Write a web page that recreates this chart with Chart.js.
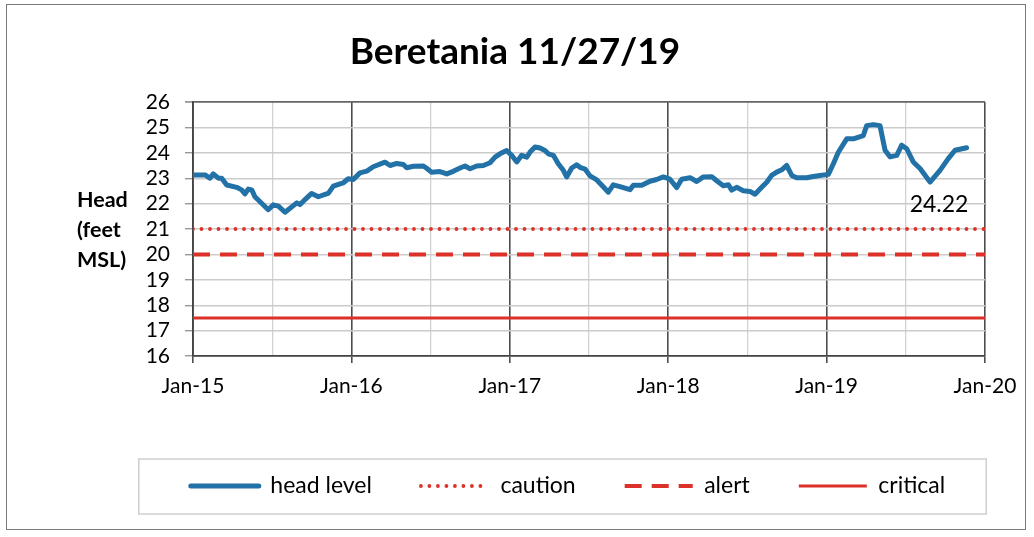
<!DOCTYPE html>
<html>
<head>
<meta charset="utf-8">
<script src="https://cdn.jsdelivr.net/npm/chart.js@4/dist/chart.umd.min.js"></script>
<style>
  html, body { margin: 0; padding: 0; background: #fff; }
  #wrap { position: relative; width: 1034px; height: 537px; overflow: hidden; }
  #frame { position: absolute; left: 6px; top: 4px; width: 1020px; height: 526px; border: 1.5px solid #7a7a7a; box-sizing: border-box; }
  canvas { position: absolute; left: 0; top: 0; }
</style>
</head>
<body>
<div id="wrap">
  <div id="frame"></div>
  <canvas id="c" width="1034" height="537"></canvas>
</div>
<script>
// ---- data ----
const chartTitle = 'Beretania 11/27/19';
const yTitleLines = ['Head', '(feet', 'MSL)'];
const xTickLabels = ['Jan-15', 'Jan-16', 'Jan-17', 'Jan-18', 'Jan-19', 'Jan-20'];
const xStartYear = 2015;
const xEndYear = 2020;
const yMin = 16;
const yMax = 26;

const seriesNames = ['head level', 'caution', 'alert', 'critical'];

const headYears = [
  2015.002, 2015.076, 2015.107, 2015.128, 2015.160, 2015.181, 2015.213, 2015.276, 2015.307, 2015.328,
  2015.349, 2015.371, 2015.391, 2015.475, 2015.507, 2015.539, 2015.581, 2015.655, 2015.676, 2015.707,
  2015.749, 2015.791, 2015.833, 2015.854, 2015.886, 2015.928, 2015.949, 2015.980, 2016.012, 2016.054,
  2016.097, 2016.138, 2016.212, 2016.244, 2016.286, 2016.328, 2016.349, 2016.391, 2016.454, 2016.475,
  2016.507, 2016.559, 2016.602, 2016.643, 2016.686, 2016.717, 2016.749, 2016.791, 2016.833, 2016.875,
  2016.907, 2016.938, 2016.980, 2017.012, 2017.044, 2017.075, 2017.107, 2017.128, 2017.159, 2017.191,
  2017.222, 2017.243, 2017.275, 2017.306, 2017.338, 2017.359, 2017.391, 2017.422, 2017.443, 2017.475,
  2017.506, 2017.549, 2017.590, 2017.622, 2017.653, 2017.696, 2017.759, 2017.780, 2017.833, 2017.885,
  2017.927, 2017.969, 2018.011, 2018.054, 2018.085, 2018.138, 2018.180, 2018.222, 2018.275, 2018.306,
  2018.348, 2018.380, 2018.401, 2018.432, 2018.474, 2018.516, 2018.548, 2018.590, 2018.622, 2018.653,
  2018.685, 2018.717, 2018.748, 2018.780, 2018.811, 2018.874, 2018.916, 2018.958, 2019.011, 2019.042,
  2019.074, 2019.127, 2019.169, 2019.232, 2019.253, 2019.295, 2019.337, 2019.369, 2019.400, 2019.443,
  2019.474, 2019.506, 2019.547, 2019.590, 2019.653, 2019.716, 2019.768, 2019.811, 2019.884
];
const headValues = [
  23.13, 23.13, 23.00, 23.17, 23.00, 23.00, 22.73, 22.64, 22.54, 22.38,
  22.57, 22.54, 22.27, 21.76, 21.95, 21.90, 21.66, 22.03, 21.96, 22.16,
  22.40, 22.27, 22.36, 22.40, 22.69, 22.78, 22.82, 22.98, 22.95, 23.21,
  23.28, 23.45, 23.63, 23.50, 23.58, 23.54, 23.41, 23.47, 23.48, 23.39,
  23.23, 23.26, 23.17, 23.27, 23.40, 23.48, 23.37, 23.48, 23.50, 23.61,
  23.83, 23.96, 24.09, 23.90, 23.64, 23.90, 23.83, 24.03, 24.23, 24.19,
  24.09, 23.96, 23.90, 23.57, 23.31, 23.05, 23.40, 23.53, 23.43, 23.36,
  23.09, 22.93, 22.66, 22.45, 22.74, 22.67, 22.55, 22.72, 22.72, 22.88,
  22.95, 23.05, 22.96, 22.63, 22.96, 23.02, 22.87, 23.05, 23.06, 22.90,
  22.70, 22.74, 22.53, 22.64, 22.51, 22.48, 22.37, 22.64, 22.84, 23.11,
  23.24, 23.33, 23.50, 23.11, 23.02, 23.02, 23.07, 23.11, 23.15, 23.56,
  24.02, 24.55, 24.55, 24.68, 25.07, 25.11, 25.07, 24.10, 23.84, 23.90,
  24.30, 24.16, 23.64, 23.38, 22.85, 23.31, 23.77, 24.10, 24.20
];

const thresholdYears = [2015, 2020];
const cautionValues = [21, 21];
const alertValues = [20, 20];
const criticalValues = [17.5, 17.5];

const lastValueText = '24.22';
const lastValueAnchor = { year: 2019.71, value: 21.98 };

// ---- build ----
const toPoints = (xs, ys) => xs.map((x, i) => ({ x: x, y: ys[i] }));
const FONT = 'Lato, "Open Sans", sans-serif';
const BLUE = '#2272a8';
const RED = '#dc3128';

const isYear = v => Math.abs(v - Math.round(v)) < 1e-6;

const decorPlugin = {
  id: 'decor',
  afterLayout(chart) {
    const lg = chart.legend;
    if (lg) { const dx = 53; lg.left += dx; lg.right += dx; }
  },
  afterDraw(chart) {
    const ctx = chart.ctx;
    const o = chart.options.plugins.decor;
    ctx.save();
    ctx.fillStyle = '#000';
    ctx.font = 'bold 21.5px ' + FONT;
    ctx.textAlign = 'left';
    ctx.textBaseline = 'middle';
    o.yTitle.forEach((t, i) => ctx.fillText(t, 77, 200 + i * 30));
    const xs = chart.scales.x, ys = chart.scales.y;
    ctx.font = '23px ' + FONT;
    ctx.textAlign = 'center';
    ctx.fillText(o.labelText, xs.getPixelForValue(o.labelAnchor.year), ys.getPixelForValue(o.labelAnchor.value));
    const lg = chart.legend;
    if (lg && lg.legendHitBoxes && lg.legendHitBoxes.length) {
      const hb = lg.legendHitBoxes;
      const first = hb[0], last = hb[hb.length - 1];
      const cy = first.top + first.height / 2;
      const l = first.left - 52, r = last.left + last.width + 41;
      ctx.strokeStyle = '#cfcfcf';
      ctx.lineWidth = 1.5;
      ctx.strokeRect(l, cy - 27, r - l, 55);
    }
    ctx.restore();
  }
};

new Chart(document.getElementById('c'), {
  type: 'line',
  data: {
    datasets: [
      { label: seriesNames[0], data: toPoints(headYears, headValues), borderColor: BLUE, backgroundColor: BLUE,
        borderWidth: 5, pointRadius: 0, tension: 0, borderJoinStyle: 'round', borderCapStyle: 'round', order: 0 },
      { label: seriesNames[1], data: toPoints(thresholdYears, cautionValues), borderColor: RED, backgroundColor: RED,
        borderWidth: 3.8, borderDash: [0, 8.5], borderCapStyle: 'round', pointRadius: 0, order: 1 },
      { label: seriesNames[2], data: toPoints(thresholdYears, alertValues), borderColor: RED, backgroundColor: RED,
        borderWidth: 4, borderDash: [17, 10], pointRadius: 0, order: 2 },
      { label: seriesNames[3], data: toPoints(thresholdYears, criticalValues), borderColor: RED, backgroundColor: RED,
        borderWidth: 3, pointRadius: 0, order: 3 }
    ]
  },
  options: {
    responsive: false,
    devicePixelRatio: 1,
    animation: false,
    layout: { padding: { left: 45, right: 49, top: 0, bottom: 29.5 } },
    scales: {
      x: {
        type: 'linear', min: xStartYear, max: xEndYear,
        afterFit: s => { s.height = 69.5; },
        afterBuildTicks: s => {
          const t = [];
          for (let v = xStartYear; v <= xEndYear + 1e-9; v += 0.5) t.push({ value: Math.round(v * 10) / 10 });
          s.ticks = t;
        },
        ticks: {
          autoSkip: false, maxRotation: 0, padding: 11, color: '#000',
          font: { family: FONT, size: 21 },
          callback: v => isYear(v) ? xTickLabels[Math.round(v) - xStartYear] : ''
        },
        grid: {
          color: c => (c.tick && isYear(c.tick.value)) ? '#4d4d4d' : '#d2d2d2',
          lineWidth: c => (c.tick && isYear(c.tick.value)) ? 1.6 : 1.3,
          tickColor: c => (c.tick && isYear(c.tick.value)) ? '#4d4d4d' : 'rgba(0,0,0,0)',
          tickLength: 7
        },
        border: { color: '#444', width: 1.8 }
      },
      y: {
        min: yMin, max: yMax,
        afterFit: s => { s.width = 148; },
        ticks: { stepSize: 1, autoSkip: false, padding: 15, color: '#000', font: { family: FONT, size: 21 } },
        grid: {
          color: c => (c.tick && c.tick.value === yMax) ? '#666' : '#cbcbcb',
          lineWidth: c => (c.tick && c.tick.value === yMax) ? 1.8 : 1.4,
          tickColor: '#999', tickLength: 8
        },
        border: { color: '#444', width: 1.8 }
      }
    },
    plugins: {
      title: {
        display: true, text: chartTitle, color: '#000',
        font: { family: FONT, size: 37, weight: 'bold', lineHeight: 1.2 },
        padding: { top: 29.8, bottom: 27.8 }
      },
      legend: {
        position: 'bottom',
        labels: {
          usePointStyle: true, pointStyle: 'line', pointStyleWidth: 68,
          padding: 49, color: '#000',
          font: { family: FONT, size: 23 },
          generateLabels: chart => chart.data.datasets.map((ds, i) => ({
            text: ds.label,
            datasetIndex: i,
            fillStyle: ds.backgroundColor,
            strokeStyle: ds.borderColor,
            lineWidth: ds.borderWidth,
            lineDash: ds.borderDash || [],
            lineCap: ds.borderCapStyle || 'butt',
            pointStyle: 'line',
            fontColor: '#000',
            hidden: false
          }))
        }
      },
      tooltip: { enabled: false },
      decor: { yTitle: yTitleLines, labelText: lastValueText, labelAnchor: lastValueAnchor }
    }
  },
  plugins: [decorPlugin]
});
</script>
</body>
</html>
